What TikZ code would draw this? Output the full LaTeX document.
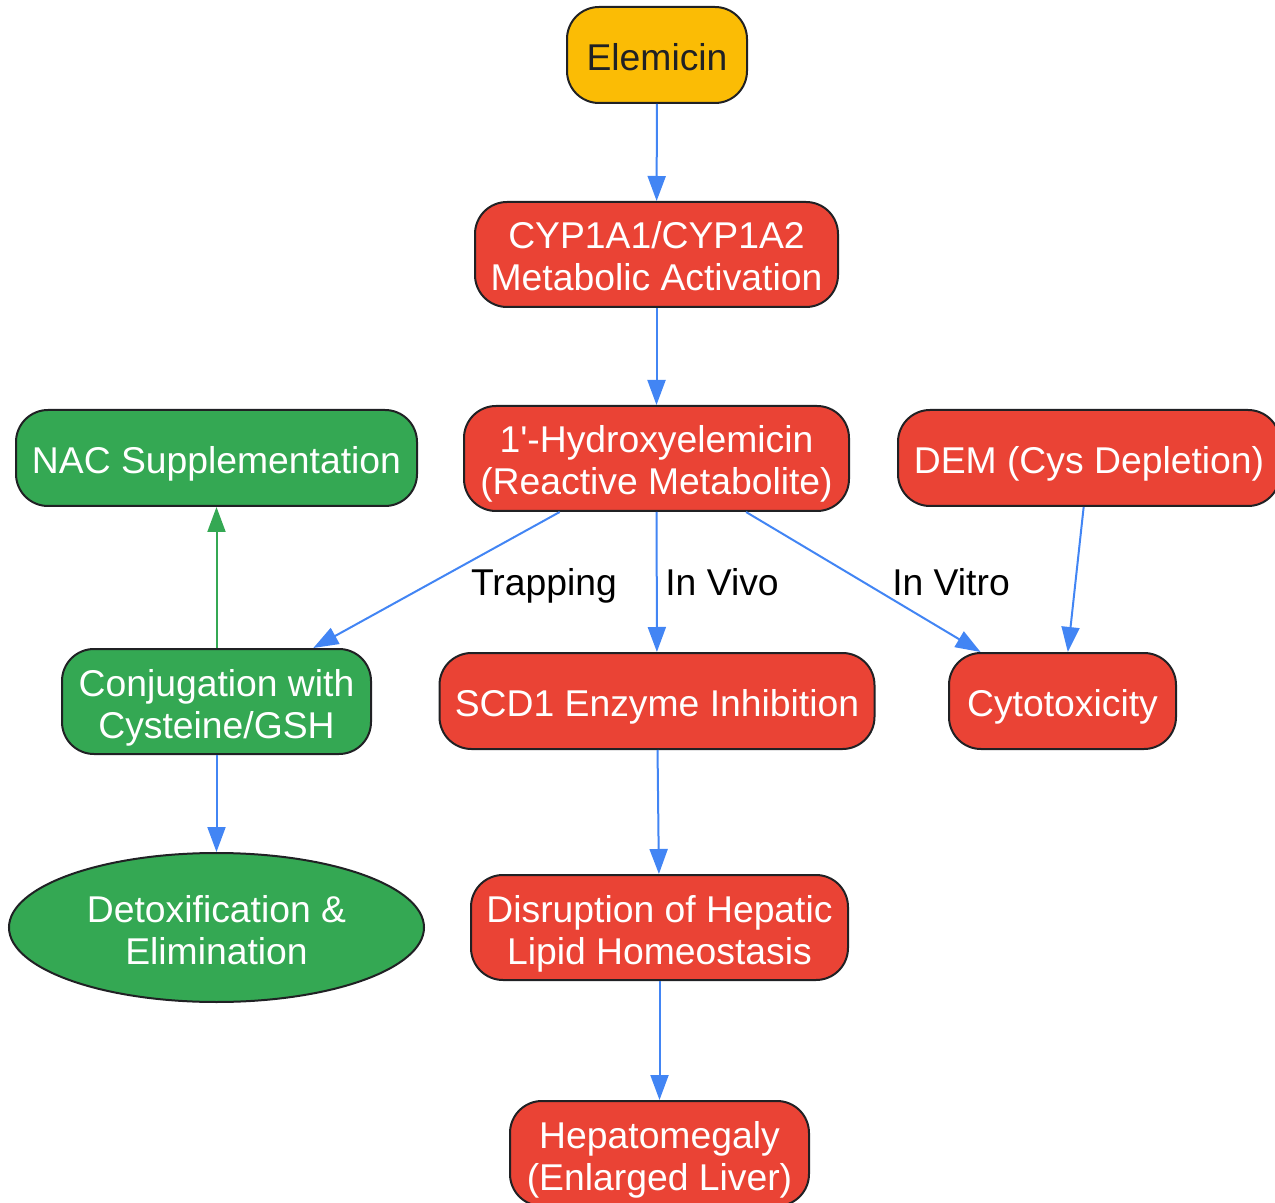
\documentclass[tikz,border=0pt]{standalone}
\usepackage{fontspec}
\setmainfont{Liberation Sans}
\usetikzlibrary{shapes.geometric,arrows.meta}
\definecolor{gyellow}{HTML}{FBBC05}
\definecolor{gred}{HTML}{EA4335}
\definecolor{ggreen}{HTML}{34A853}
\definecolor{gblue}{HTML}{4285F4}
\definecolor{gdark}{HTML}{202124}

\begin{document}
\begin{tikzpicture}[x=0.5pt,y=-0.5pt,every node/.style={font=\fontsize{18.65}{21}\selectfont, align=center},box/.style={draw=gdark, line width=1pt, rectangle, rounded corners=16pt, inner sep=0pt, minimum height=48pt, text height=18pt, text depth=2.5pt},tall/.style={box, minimum height=52.5pt, text height=39pt},redbox/.style={fill=gred, text=white},greenbox/.style={fill=ggreen, text=white},lbl/.style={text=black, text height=13pt, text depth=0pt},link/.style={draw=gblue, line width=1pt, -{Triangle[length=12.5pt,width=9pt]}},greenlink/.style={link, draw=ggreen}]
\useasboundingbox (0,0) rectangle (1275,1203);
\node[box, fill=gyellow, text=gdark, minimum width=90pt](elem) at (657,55) {Elemicin};
\node[tall, redbox, minimum width=181.5pt](cyp) at (656.5,254.5) {CYP1A1/CYP1A2\\Metabolic Activation};
\node[tall, redbox, minimum width=192.5pt](hyd) at (656.5,458.5) {1\textquotesingle-Hydroxyelemicin\\(Reactive Metabolite)};
\node[box, greenbox, minimum width=200.5pt](nac) at (216.5,458) {NAC Supplementation};
\node[box, redbox, minimum width=191pt](dem) at (1089,458) {DEM (Cys Depletion)};
\node[tall, greenbox, minimum width=154.5pt](conj) at (216.5,701.5) {Conjugation with\\Cysteine/GSH};
\node[box, redbox, minimum width=217.5pt](scd) at (657,701) {SCD1 Enzyme Inhibition};
\node[box, redbox, minimum width=113.5pt](cyto) at (1062.5,701) {Cytotoxicity};
\node[ellipse, draw=gdark, line width=1pt, greenbox, inner sep=0pt, minimum width=207.5pt, minimum height=74.5pt, text height=39pt, text depth=2.5pt](detox) at (216.5,927.5) {Detoxification \&\\Elimination};
\node[tall, redbox, minimum width=188.5pt](disr) at (659.5,927.5) {Disruption of Hepatic\\Lipid Homeostasis};
\node[tall, redbox, minimum width=149.5pt](hepa) at (659.5,1153.5) {Hepatomegaly\\(Enlarged Liver)};
\node[lbl](trap) at (544,583) {Trapping};
\node[lbl](vivo) at (722,583) {In Vivo};
\node[lbl](vitro) at (951,583) {In Vitro};
\draw[link] (elem) -- (cyp);
\draw[link] (cyp) -- (hyd);
\draw[link] (hyd) -- (conj);
\draw[link] (hyd) -- (scd);
\draw[link] (hyd) -- (cyto);
\draw[link] (dem) -- (cyto);
\draw[greenlink] (conj) -- (nac);
\draw[link] (conj) -- (detox);
\draw[link] (scd) -- (disr);
\draw[link] (disr) -- (hepa);
\end{tikzpicture}
\end{document}
